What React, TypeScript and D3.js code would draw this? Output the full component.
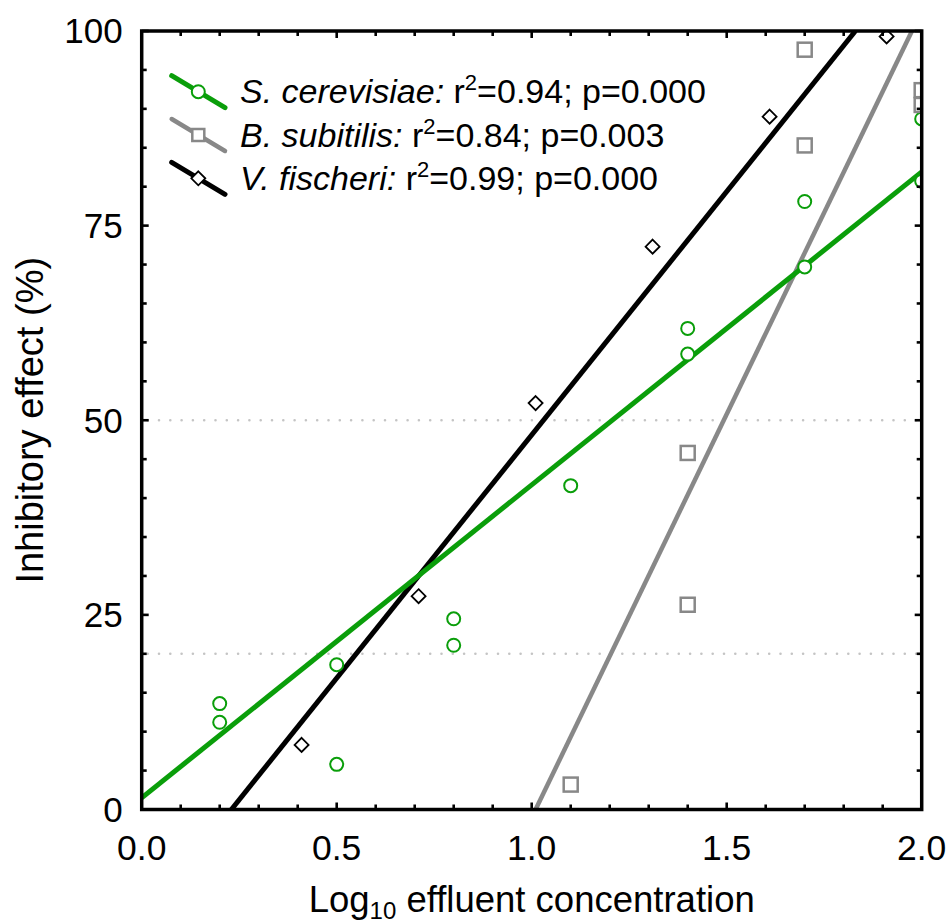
import React from "react";
import * as d3 from "d3";

// values
const cerevisiaeX = [0.2, 0.2, 0.5, 0.5, 0.8, 0.8, 1.1, 1.4, 1.4, 1.7, 1.7, 2.0, 2.0];
const cerevisiaeY = [13.6, 11.2, 18.6, 5.8, 24.5, 21.1, 41.6, 61.8, 58.5, 78.1, 69.7, 88.7, 80.7];
const subtilisX = [1.1, 1.4, 1.4, 1.7, 1.7, 2.0, 2.0];
const subtilisY = [3.2, 26.3, 45.8, 85.3, 97.6, 92.4, 90.5];
const fischeriX = [0.41, 0.71, 1.01, 1.31, 1.61, 1.91];
const fischeriY = [8.3, 27.4, 52.2, 72.3, 89.0, 99.3];

// fitted lines, endpoints [x, y]
const cerevisiaeFit = [[0, 1.5], [2, 81.9]];
const subtilisFit = [[1.01, 0], [1.975, 100]];
const fischeriFit = [[0.23, 0], [1.83, 100]];

const xTicks = [0, 0.5, 1, 1.5, 2];
const xTickLabels = ["0.0", "0.5", "1.0", "1.5", "2.0"];
const yTicks = [0, 25, 50, 75, 100];
const yTickLabels = ["0", "25", "50", "75", "100"];
const refLines = [20, 50];

const legendNames = ["S. cerevisiae:", "B. subitilis:", "V. fischeri:"];
const legendR2 = ["0.94", "0.84", "0.99"];
const legendP = ["0.000", "0.003", "0.000"];

const GREEN = "#0a9e0a";
const GRAY = "#888888";
const FONT = "'Liberation Sans', Arial, sans-serif";

const W = 947, H = 923;
const margin = { top: 31, right: 25.3, bottom: 113.5, left: 141.7 };
const iw = W - margin.left - margin.right;
const ih = H - margin.top - margin.bottom;

const x = d3.scaleLinear().domain([0, 2]).range([0, iw]);
const y = d3.scaleLinear().domain([0, 100]).range([ih, 0]);

const line = d3.line<number[]>().x((d) => x(d[0])).y((d) => y(d[1]));

const Circle = ({ cx, cy }: { cx: number; cy: number }) => (
  <circle cx={cx} cy={cy} r={6.5} fill="white" stroke={GREEN} strokeWidth={2} />
);
const Square = ({ cx, cy, s = 14 }: { cx: number; cy: number; s?: number }) => (
  <rect x={cx - s / 2} y={cy - s / 2} width={s} height={s} fill="white" stroke={GRAY} strokeWidth={2.5} />
);
const Diamond = ({ cx, cy, s = 7 }: { cx: number; cy: number; s?: number }) => (
  <path
    d={`M${cx},${cy - s}L${cx + s},${cy}L${cx},${cy + s}L${cx - s},${cy}Z`}
    fill="white"
    stroke="black"
    strokeWidth={1.8}
  />
);

export default function App() {
  const minorX = d3.range(0, 2.0001, 0.1);
  const minorY = d3.range(0, 100.001, 5);
  const isMajorX = (t: number) => xTicks.some((m) => Math.abs(m - t) < 1e-6);
  const isMajorY = (t: number) => yTicks.some((m) => Math.abs(m - t) < 1e-6);

  const legendRows = [
    { color: GREEN, width: 5, marker: (cx: number, cy: number) => <Circle cx={cx} cy={cy} /> },
    { color: GRAY, width: 4.5, marker: (cx: number, cy: number) => <Square cx={cx} cy={cy} s={12} /> },
    { color: "black", width: 5, marker: (cx: number, cy: number) => <Diamond cx={cx} cy={cy} s={7} /> },
  ];

  return (
    <svg
      width={W}
      height={H}
      style={{ position: "absolute", left: 0, top: 0, background: "white" }}
      fontFamily={FONT}
    >
      <defs>
        <clipPath id="plot">
          <rect x={0} y={0} width={iw} height={ih} />
        </clipPath>
      </defs>
      <g transform={`translate(${margin.left},${margin.top})`}>
        {/* dotted reference lines */}
        {refLines.map((v) => (
          <line
            key={v}
            x1={6}
            x2={iw}
            y1={y(v)}
            y2={y(v)}
            stroke="#c4c4c4"
            strokeWidth={2.6}
            strokeLinecap="round"
            strokeDasharray="0 11.3"
          />
        ))}

        <g clipPath="url(#plot)">
          <path d={line(subtilisFit) || ""} stroke={GRAY} strokeWidth={4.5} fill="none" />
          <path d={line(fischeriFit) || ""} stroke="black" strokeWidth={5} fill="none" />
          <path d={line(cerevisiaeFit) || ""} stroke={GREEN} strokeWidth={5} fill="none" />

          {cerevisiaeX.map((v, i) => (
            <Circle key={"c" + i} cx={x(v)} cy={y(cerevisiaeY[i])} />
          ))}
          {subtilisX.map((v, i) => (
            <Square key={"s" + i} cx={x(v)} cy={y(subtilisY[i])} />
          ))}
          {fischeriX.map((v, i) => (
            <Diamond key={"f" + i} cx={x(v)} cy={y(fischeriY[i])} />
          ))}
        </g>

        {/* ticks, inward on all four sides */}
        {minorX.map((t) => {
          const len = isMajorX(t) ? 7 : 5;
          return (
            <g key={"tx" + t} stroke="black" strokeWidth={2.6}>
              <line x1={x(t)} x2={x(t)} y1={ih} y2={ih - len} />
              <line x1={x(t)} x2={x(t)} y1={0} y2={len} />
            </g>
          );
        })}
        {minorY.map((t) => {
          const len = isMajorY(t) ? 7 : 5;
          return (
            <g key={"ty" + t} stroke="black" strokeWidth={2.6}>
              <line x1={0} x2={len} y1={y(t)} y2={y(t)} />
              <line x1={iw} x2={iw - len} y1={y(t)} y2={y(t)} />
            </g>
          );
        })}

        <rect x={0} y={0} width={iw} height={ih} fill="none" stroke="black" strokeWidth={3.5} />

        {/* tick labels */}
        {xTicks.map((t, i) => (
          <text key={"lx" + t} x={x(t)} y={ih + 50.5} textAnchor="middle" fontSize={35.5}>
            {xTickLabels[i]}
          </text>
        ))}
        {yTicks.map((t, i) => (
          <text key={"ly" + t} x={-19} y={y(t)} dy="0.35em" textAnchor="end" fontSize={35}>
            {yTickLabels[i]}
          </text>
        ))}

        {/* axis titles */}
        <text x={iw / 2} y={ih + 102} textAnchor="middle" fontSize={36.5}>
          Log<tspan fontSize={24} dy={7}>10</tspan>
          <tspan dy={-7}> effluent concentration</tspan>
        </text>
        <text
          transform={`translate(${43 - margin.left},${ih / 2}) rotate(-90)`}
          textAnchor="middle"
          fontSize={38}
        >
          Inhibitory effect (%)
        </text>

        {/* legend */}
        {legendRows.map((row, i) => {
          const cy = 60.7 + i * 43.3;
          const lx = 171.7 - margin.left;
          return (
            <g key={"lg" + i}>
              <line
                x1={lx}
                x2={lx + 53.3}
                y1={cy - 16}
                y2={cy + 16}
                stroke={row.color}
                strokeWidth={row.width}
                strokeLinecap="round"
              />
              {row.marker(lx + 26.6, cy)}
              <text x={240 - margin.left} y={cy + 11.5} fontSize={34}>
                <tspan fontStyle="italic">{legendNames[i]}</tspan>
                <tspan> r</tspan>
                <tspan fontSize={22} dy={-13}>2</tspan>
                <tspan dy={13}>={legendR2[i]}; p={legendP[i]}</tspan>
              </text>
            </g>
          );
        })}
      </g>
    </svg>
  );
}
